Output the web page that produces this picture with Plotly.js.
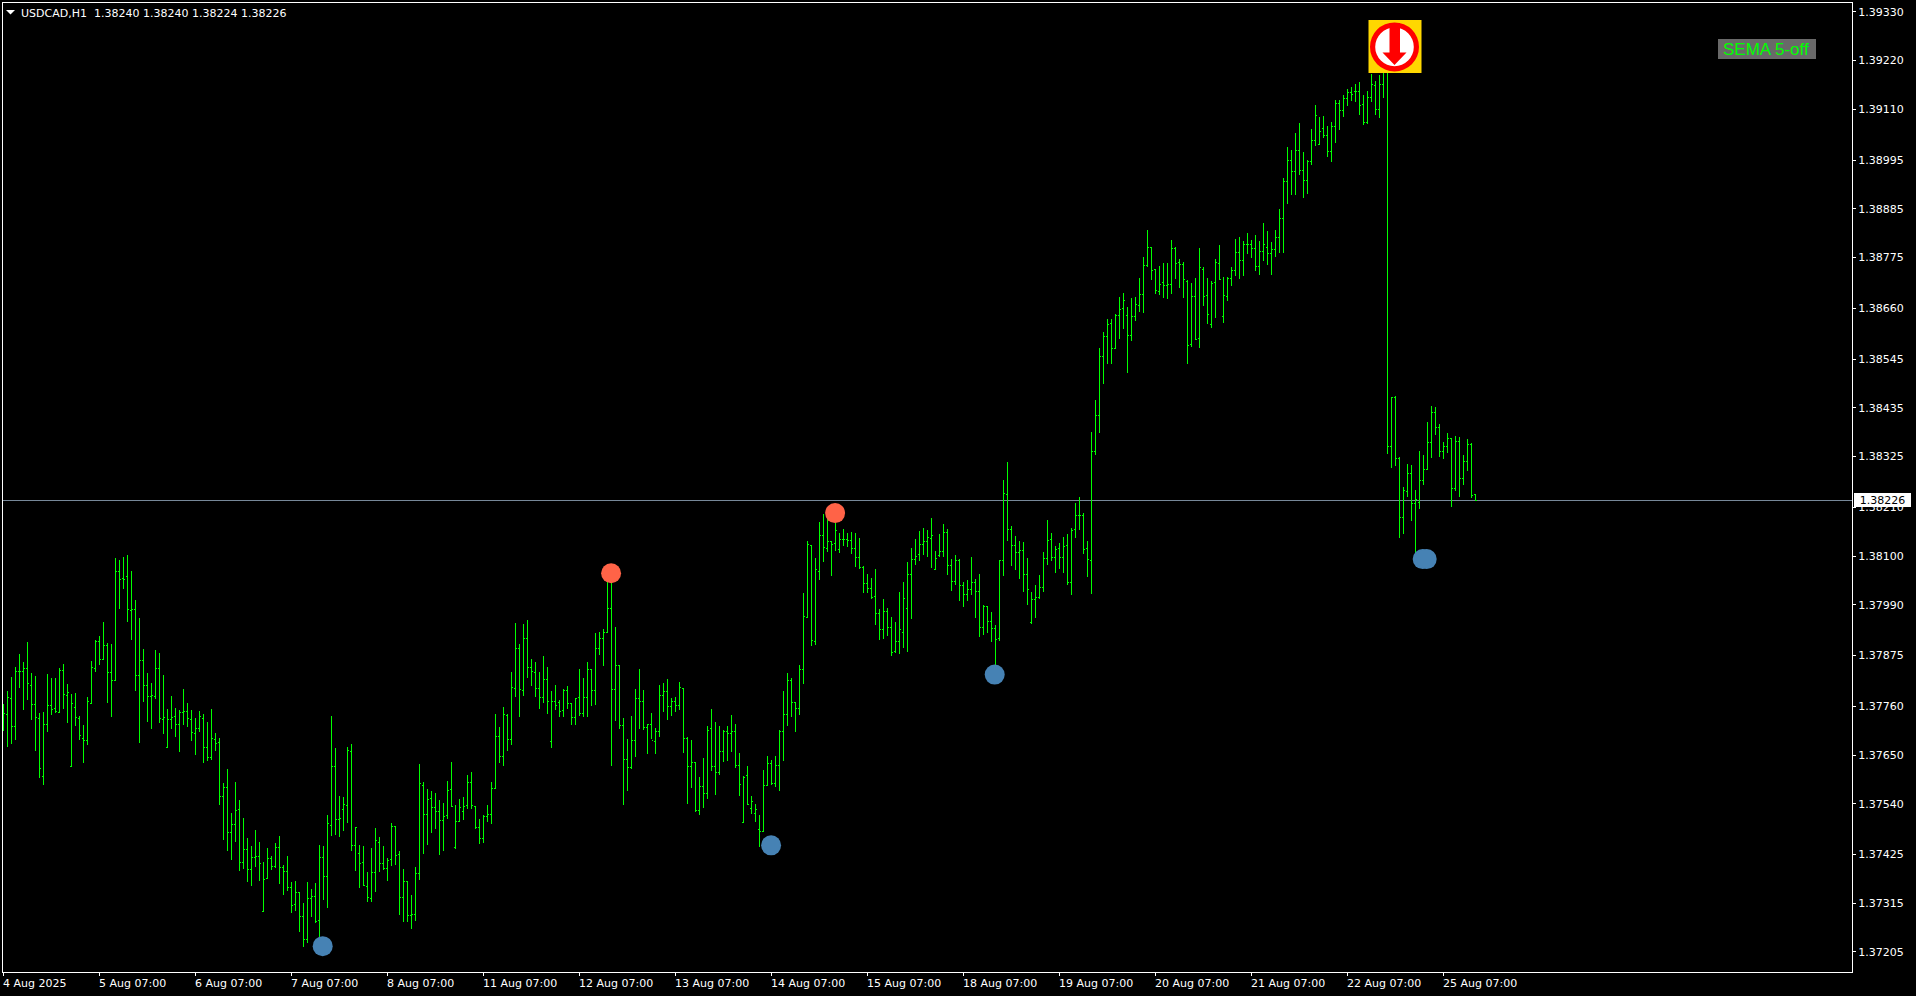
<!DOCTYPE html>
<html>
<head>
<meta charset="utf-8">
<script src="https://cdn.plot.ly/plotly-3.0.1.min.js"></script>
<style>
html,body{margin:0;padding:0;background:#000;overflow:hidden}
#chart{width:1916px;height:996px}
.ohlclayer path{shape-rendering:crispEdges !important}
.layer-below .shapelayer path{shape-rendering:crispEdges !important}
</style>
</head>
<body>
<div id="chart"></div>
<script>
// Prices are stored as points (0.00001) above this base.
const BASE = 1.37;
const highPts = [
765,795,826,849,879,860,906,835,829,745,
747,833,824,824,846,855,811,788,790,738,
718,781,863,910,919,951,903,901,1095,1091,
1098,1102,1066,1001,960,889,835,812,887,881,
831,755,783,757,752,799,768,751,733,749,
743,725,754,699,689,588,618,519,589,548,
508,462,444,481,453,408,440,422,451,467,
401,422,363,365,340,316,363,347,361,447,
444,515,738,666,558,555,668,676,487,447,
444,386,440,485,465,444,417,496,490,433,
392,365,334,397,630,589,573,569,564,548,
542,591,634,537,551,555,605,612,535,506,
515,537,589,743,713,759,743,838,949,901,
946,955,867,860,838,874,849,795,808,774,
799,806,768,779,845,824,860,845,926,928,
935,1046,1061,939,853,734,686,738,799,845,
797,720,745,711,808,812,822,779,781,815,
802,690,684,634,600,643,716,754,725,716,
707,716,741,720,655,603,625,557,539,514,
616,648,639,648,707,795,836,824,770,854,
1016,1134,1125,1096,1177,1195,1190,1135,1175,1152,
1161,1152,1154,1152,1141,1077,1059,1050,1071,980,
1003,982,962,951,1019,1041,1086,1118,1138,1157,
1163,1159,1186,1111,1150,1172,1161,1093,1102,1093,
1041,1046,1098,1048,1059,989,987,973,944,1092,
1272,1313,1168,1145,1134,1132,1096,1019,1034,1057,
1109,1181,1152,1123,1129,1143,1150,1163,1220,1233,
1197,1134,1380,1453,1570,1607,1636,1636,1647,1686,
1695,1663,1683,1686,1729,1776,1837,1798,1749,1756,
1762,1762,1814,1798,1771,1765,1724,1717,1729,1796,
1753,1729,1722,1771,1803,1731,1731,1753,1817,1821,
1812,1830,1814,1826,1812,1853,1835,1810,1837,1884,
1955,2025,2018,2056,2079,2013,1995,2065,2120,2092,
2095,2072,2081,2131,2131,2142,2156,2160,2167,2172,
2142,2151,2190,2174,2187,2197,2197,1460,1462,1323,
1256,1308,1306,1249,1337,1328,1403,1439,1437,1399,
1358,1378,1366,1371,1369,1328,1365,1355,1240];
const lowPts = [
705,669,675,683,802,753,775,729,660,599,
583,702,741,744,746,755,722,624,716,684,
633,672,767,838,854,865,768,737,818,980,
1025,951,910,795,677,770,725,709,777,723,
698,668,709,692,658,719,713,682,650,703,
632,637,640,660,538,458,434,413,453,389,
392,364,355,398,366,296,371,390,395,358,
333,342,294,298,251,217,226,284,270,236,
322,304,467,469,465,478,496,433,388,350,
354,318,318,340,386,390,365,399,401,288,
273,273,257,275,368,426,447,474,483,424,
433,506,533,438,499,503,527,528,483,449,
451,499,494,573,632,625,659,673,781,736,
783,824,806,781,754,768,743,666,753,736,
736,754,718,718,738,736,736,762,763,876,
851,925,625,727,709,537,569,619,646,709,
707,652,686,652,691,747,729,738,747,752,
655,539,576,522,515,530,551,614,560,605,
634,637,657,621,557,496,537,517,499,442,
476,582,582,578,569,637,716,736,702,741,
811,960,897,899,1046,1086,1109,1055,1111,1107,
1123,1120,1105,1075,1071,1016,1016,1003,944,910,
912,919,874,881,878,892,883,958,1080,1089,
1102,1098,1073,1068,1098,1098,1057,1021,1034,998,
985,998,1012,960,917,921,926,906,851,908,
1055,1134,1077,1068,1048,1019,989,947,960,1003,
1019,1080,1089,1062,1071,1062,1034,1012,1141,1159,
1105,1053,1014,1328,1378,1489,1534,1534,1570,1591,
1613,1514,1586,1631,1652,1649,1753,1724,1692,1690,
1683,1681,1692,1726,1706,1683,1534,1573,1588,1570,
1665,1625,1615,1638,1724,1627,1677,1710,1733,1726,
1733,1783,1774,1744,1735,1767,1758,1735,1777,1786,
1785,1896,1916,1916,1961,1909,1918,1984,2027,2029,
2045,2002,1991,2034,2063,2092,2117,2129,2126,2097,
2074,2077,2126,2097,2090,2135,1331,1299,1304,1141,
1150,1233,1179,1102,1206,1261,1295,1322,1374,1324,
1319,1333,1211,1247,1233,1261,1292,1231,1224];
const openPts = [
737,742,778,715,840,840,846,808,765,733,
601,720,762,756,747,842,785,624,758,733,
688,684,767,846,906,865,898,836,818,1064,
1050,1053,976,978,831,863,808,782,782,845,
731,668,731,737,719,747,748,731,699,710,
733,668,644,686,678,557,577,474,493,527,
408,437,392,419,420,296,371,417,399,441,
396,387,351,312,340,285,233,325,331,276,
418,376,491,625,505,527,537,658,446,428,
407,354,326,384,453,405,393,414,489,426,
329,365,288,290,383,582,516,552,532,523,
503,514,573,441,500,523,536,588,534,487,
462,512,516,575,692,646,740,686,801,891,
796,914,848,837,801,781,821,681,771,769,
751,796,767,735,781,744,781,844,795,891,
914,927,982,799,853,717,639,621,684,777,
771,713,719,681,704,785,794,760,771,762,
801,688,625,634,524,579,563,710,624,611,
658,704,699,704,627,498,603,530,518,481,
477,582,630,586,627,704,742,819,769,756,
843,961,1124,907,1065,1147,1117,1133,1129,1115,
1138,1138,1135,1117,1097,1074,1038,1027,1008,970,
934,975,939,885,907,927,982,1059,1093,1104,
1126,1133,1140,1070,1101,1110,1154,1079,1043,1090,
1034,1012,1025,1041,1020,939,986,952,936,914,
1090,1239,1160,1124,1108,1113,1059,949,1002,1007,
1029,1095,1138,1097,1117,1097,1124,1041,1160,1192,
1192,1117,1091,1337,1418,1551,1597,1626,1570,1643,
1660,1644,1599,1642,1667,1692,1757,1798,1748,1698,
1719,1712,1714,1796,1764,1759,1721,1579,1687,1592,
1748,1689,1624,1719,1762,1642,1687,1728,1746,1787,
1769,1805,1805,1796,1755,1789,1798,1784,1793,1819,
1863,1946,1995,1970,2017,1972,1948,1993,2040,2031,
2067,2051,2015,2072,2123,2108,2135,2149,2151,2151,
2121,2080,2137,2164,2110,2166,2195,1348,1459,1321,
1188,1246,1287,1219,1221,1271,1296,1357,1425,1391,
1336,1348,1366,1253,1359,1276,1314,1353,1240];
const closePts = [
744,780,715,840,840,846,811,765,735,620,
720,762,753,748,842,787,791,767,734,695,
684,770,847,906,865,898,836,818,1066,1048,
1046,978,980,831,863,808,782,784,845,733,
735,731,735,719,747,748,732,701,710,737,
668,644,688,676,557,577,474,492,524,408,
437,392,419,420,405,369,417,399,441,396,
387,351,310,340,284,233,326,331,274,419,
376,496,625,505,507,539,660,446,487,405,
356,329,384,456,405,393,412,489,423,329,
365,288,290,383,586,516,550,532,523,503,
512,570,534,500,532,534,588,536,487,462,
512,516,575,692,646,742,686,803,891,799,
914,848,839,801,781,821,771,771,762,749,
796,767,735,777,744,781,844,795,891,914,
928,982,799,853,717,640,621,684,777,771,
713,719,683,704,785,794,760,771,762,803,
688,625,634,524,579,563,706,624,611,658,
704,699,704,627,584,600,539,546,526,477,
582,630,586,627,704,742,819,769,756,843,
964,1127,909,1070,1147,1120,1133,1127,1157,1138,
1138,1135,1117,1097,1074,1038,1027,1007,970,934,
975,939,882,907,934,1004,1059,1093,1099,1126,
1133,1142,1147,1095,1110,1154,1079,1043,1090,1034,
1012,1025,1041,1020,939,986,952,936,912,1090,
1242,1160,1124,1108,1113,1059,1025,1002,1007,1029,
1095,1135,1097,1115,1097,1122,1041,1158,1192,1192,
1115,1093,1337,1418,1551,1597,1624,1570,1643,1658,
1678,1599,1642,1669,1692,1757,1798,1746,1701,1714,
1712,1714,1796,1762,1759,1726,1576,1687,1590,1753,
1687,1646,1716,1764,1726,1689,1728,1746,1787,1769,
1805,1805,1796,1755,1789,1805,1784,1793,1819,1863,
1946,1995,1970,2017,1972,1948,1993,2040,2096,2060,
2051,2015,2072,2123,2108,2135,2149,2144,2151,2119,
2080,2137,2166,2110,2166,2195,1348,1459,1321,1188,
1249,1287,1219,1228,1271,1296,1357,1425,1391,1336,
1348,1366,1253,1359,1276,1314,1353,1237,1226];

const dateTickBars = [0,24,48,72,96,120,144,168,192,216,240,264,288,312,336,360];
const dateLabels = ['4 Aug 2025','5 Aug 07:00','6 Aug 07:00','7 Aug 07:00','8 Aug 07:00','11 Aug 07:00','12 Aug 07:00','13 Aug 07:00','14 Aug 07:00','15 Aug 07:00','18 Aug 07:00','19 Aug 07:00','20 Aug 07:00','21 Aug 07:00','22 Aug 07:00','25 Aug 07:00'];
const priceTicks = [1.39330,1.39220,1.39110,1.38995,1.38885,1.38775,1.38660,1.38545,1.38435,1.38325,1.38210,1.38100,1.37990,1.37875,1.37760,1.37650,1.37540,1.37425,1.37315,1.37205];

const lowSignalBars = [79.8,191.9,247.8,354.8,355.8];
const lowSignalPts = [218,446,832,1093,1093];
const highSignalBars = [151.9,207.9];
const highSignalPts = [1061,1197];
const currentPrice = 1.38226;
const headerText = 'USDCAD,H1\u00a0\u00a01.38240 1.38240 1.38224 1.38226';
const arrowBar = 347.75, arrowPrice = 1.39251;

const toPrice = p => +(BASE + p / 1e5).toFixed(5);
const bars = highPts.map((_, i) => i);
const W = 1916, H = 996, L = 3, R = 64, T = 3, B = 24;
const pw = W - L - R, ph = H - T - B;
const px = x => (x - L) / pw, py = y => 1 - (y - T) / ph;
const font = 'DejaVu Sans';
const GREEN = '#00ff00';

const traces = [
  {type:'ohlc', x:bars, open:openPts.map(toPrice), high:highPts.map(toPrice), low:lowPts.map(toPrice), close:closePts.map(toPrice),
   increasing:{line:{color:GREEN,width:1}}, decreasing:{line:{color:GREEN,width:1}}, tickwidth:0.4, hoverinfo:'skip', showlegend:false},
  {type:'scatter', mode:'markers', x:lowSignalBars, y:lowSignalPts.map(toPrice), marker:{size:20,color:'#4682B4'}, hoverinfo:'skip', showlegend:false},
  {type:'scatter', mode:'markers', x:highSignalBars, y:highSignalPts.map(toPrice), marker:{size:20,color:'#FF6347'}, hoverinfo:'skip', showlegend:false}
];

const anchored = {xref:'x', yref:'y', xsizemode:'pixel', ysizemode:'pixel', xanchor:arrowBar, yanchor:arrowPrice, line:{width:0}};
const shapes = [
  {type:'line', xref:'paper', x0:0, x1:1, yref:'y', y0:currentPrice, y1:currentPrice, line:{color:'#778899',width:1}, layer:'below'},
  Object.assign({}, anchored, {type:'rect', x0:-26, x1:27, y0:-26, y1:27, fillcolor:'#FFD700'}),
  Object.assign({}, anchored, {type:'circle', x0:-24.5, x1:24.5, y0:-24.5, y1:24.5, fillcolor:'#FF0000'}),
  Object.assign({}, anchored, {type:'circle', x0:-19.3, x1:19.3, y0:-19.3, y1:19.3, fillcolor:'#FFFFFF'}),
  Object.assign({}, anchored, {type:'path', path:'M -5,24 L 5.5,24 L 5.5,-5.7 L 12,-5.7 L 0,-18 L -12,-5.7 L -5,-5.7 Z', fillcolor:'#FF0000'}),
  {type:'path', xref:'paper', yref:'paper', xsizemode:'pixel', ysizemode:'pixel', xanchor:0, yanchor:1, path:'M 3,-7 L 12,-7 L 7.5,-11.5 Z', fillcolor:'#FFFFFF', line:{width:0}},
  {type:'rect', xref:'paper', yref:'paper', x0:px(1718), x1:px(1816), y0:py(59), y1:py(39), fillcolor:'#696969', line:{width:0}}
];

const annotations = dateTickBars.map((b, i) => ({
  text:dateLabels[i], xref:'x', x:b, xanchor:'left', xshift:-3, yref:'paper', y:0, yanchor:'top', yshift:-3,
  showarrow:false, font:{family:font,size:11,color:'#fff'}
}));
annotations.push(
  {text:headerText, xref:'paper', x:px(19), xanchor:'left', yref:'paper', y:py(13), yanchor:'middle', showarrow:false, font:{family:font,size:11,color:'#fff'}},
  {text:'SEMA 5-off', xref:'paper', x:px(1721), xanchor:'left', yref:'paper', y:py(49), yanchor:'middle', showarrow:false, font:{family:'Liberation Sans',size:17,color:'#00ff00'}},
  {text:currentPrice.toFixed(5), xref:'paper', x:1, xanchor:'left', xshift:2, yref:'y', y:currentPrice, yanchor:'middle', width:57, height:14, borderpad:0, borderwidth:0, align:'center', bgcolor:'#fff', showarrow:false, font:{family:font,size:11,color:'#000'}}
);

const layout = {
  width:W, height:H, paper_bgcolor:'#000', plot_bgcolor:'#000', showlegend:false,
  margin:{l:L, r:R, t:T, b:B, pad:0},
  xaxis:{type:'linear', range:[-0.125,462.125], showgrid:false, zeroline:false, showline:true, mirror:true, linecolor:'#fff', linewidth:1,
    tickmode:'array', tickvals:dateTickBars, ticktext:dateLabels, showticklabels:false, ticks:'outside', ticklen:3, tickcolor:'#fff', tickwidth:1, rangeslider:{visible:false}},
  yaxis:{side:'right', range:[1.371596,1.393502], showgrid:false, zeroline:false, showline:true, mirror:true, linecolor:'#fff', linewidth:1,
    tickmode:'array', tickvals:priceTicks, ticktext:priceTicks.map(v=>v.toFixed(5)), ticks:'outside', ticklen:3, tickcolor:'#fff', tickwidth:1,
    tickfont:{family:font,size:11,color:'#fff'}},
  shapes, annotations, hovermode:false, dragmode:false
};
Plotly.newPlot('chart', traces, layout, {displayModeBar:false, staticPlot:true});
</script>
</body>
</html>
